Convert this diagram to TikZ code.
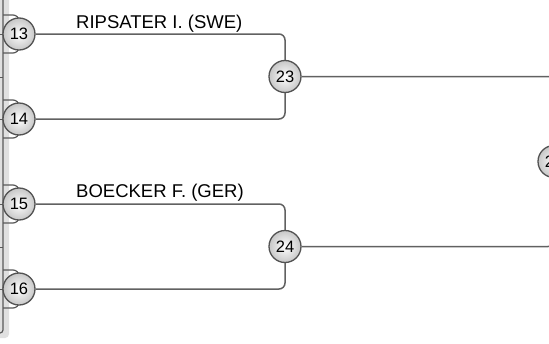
\documentclass[tikz,border=0pt]{standalone}
\usepackage{fontspec}
\setmainfont{Liberation Sans}
\begin{document}
\begin{tikzpicture}[x=1pt,y=-1pt,
  conn/.style={draw=black!62, line width=1.5pt, rounded corners=6pt},
  stub/.style={draw=black!65, line width=1.2pt, rounded corners=6pt},
  seed/.style={circle, minimum size=32pt, inner sep=0pt, draw=black!68, line width=1.3pt,
    inner color=white, outer color=black!22, font=\fontsize{16.5}{16.5}\selectfont},
  player/.style={anchor=base west, inner sep=0pt, font=\fontsize{18.5}{18.5}\selectfont}]
\useasboundingbox (0,0) rectangle (549,343);
\clip (0,0) rectangle (549,343);
\fill[white] (0,0) rectangle (549,343);
% left panel band
\fill[black!12, rounded corners=4pt] (-5,-5) rectangle (9,338);
\draw[black!65, line width=1.2pt, rounded corners=3pt] (3,-5) -- (3,333) -- (0,333);
% coordinates of match centres
\coordinate (p13) at (19,34);
\coordinate (p14) at (19,119);
\coordinate (p15) at (19,204);
\coordinate (p16) at (19,289);
% stubs of previous round
\foreach \c in {34,119,204,289}{
  \coordinate (su\c) at (3,\c-19);
  \coordinate (sd\c) at (3,\c+19);
  \coordinate (sc\c) at (19,\c);
  \draw[stub] (su\c) -| (sc\c);
  \draw[stub] (sd\c) -| (sc\c);
  \coordinate (t\c) at (0,\c);
  \coordinate (tt\c) at (3,\c);
  \draw[black!65, line width=1pt] (t\c) -- (tt\c);
}
\coordinate (m1) at (0,77);
\coordinate (m1b) at (3,77);
\coordinate (m2) at (0,247);
\coordinate (m2b) at (3,247);
\draw[black!65, line width=1pt] (m1) -- (m1b);
\draw[black!65, line width=1pt] (m2) -- (m2b);
% nodes
\node[seed] (n13) at (p13) {13};
\node[seed] (n14) at (p14) {14};
\node[seed] (n15) at (p15) {15};
\node[seed] (n16) at (p16) {16};
\node[seed] (n23) at (285,76.5) {23};
\node[seed] (n24) at (285,246.5) {24};
\node[seed] (n25) at (554,161.5) {25};
% connectors
\draw[conn] (n13.east) -| (n23.north);
\draw[conn] (n14.east) -| (n23.south);
\draw[conn] (n15.east) -| (n24.north);
\draw[conn] (n16.east) -| (n24.south);
\draw[conn] (n23.east) -| (n25.north);
\draw[conn] (n24.east) -| (n25.south);
% labels
\node[player] (l1) at (76,28) {RIPSATER I. (SWE)};
\node[player] (l2) at (76,197) {BOECKER F. (GER)};
\end{tikzpicture}
\end{document}
